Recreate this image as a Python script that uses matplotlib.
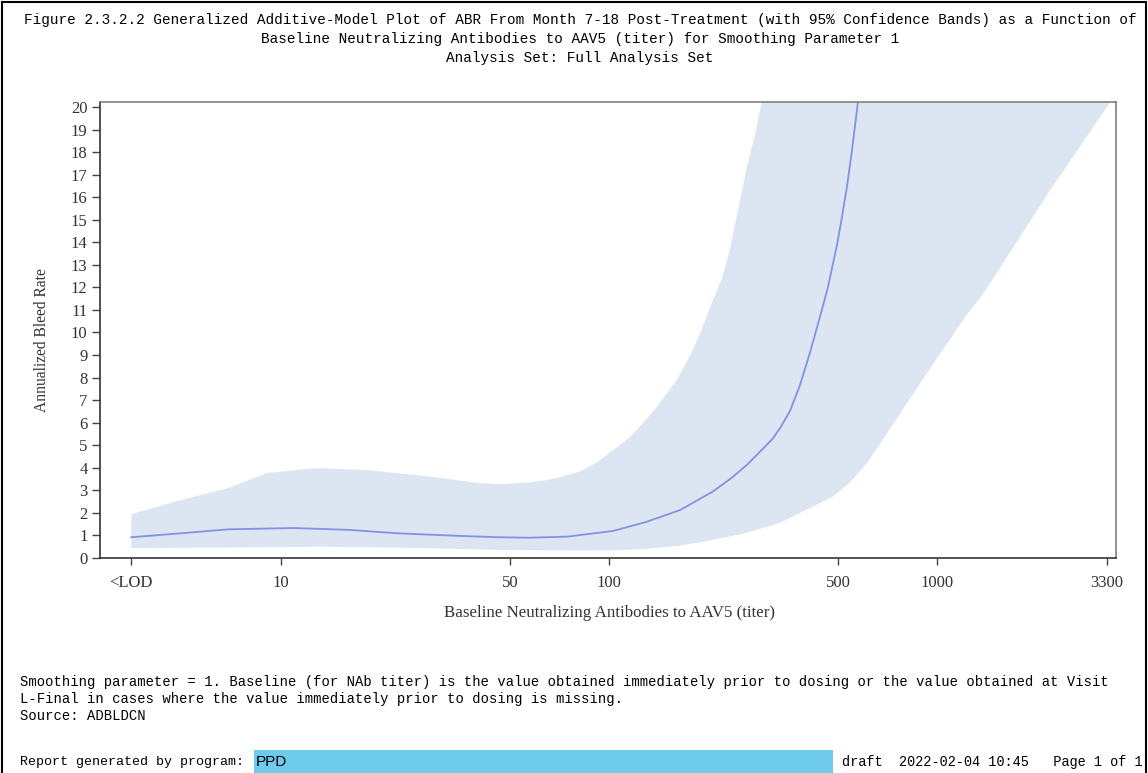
import matplotlib
matplotlib.use("Agg")
import matplotlib.pyplot as plt
from matplotlib.patches import Rectangle
from matplotlib.lines import Line2D
import numpy as np

# --- data (titer, ABR) ---
curve_x = [3.5, 5.0, 6.9, 10.9, 16, 23, 35, 46.5, 57, 75, 103, 130, 165, 207,
           234, 263, 295, 316, 332, 356, 382, 410, 440, 465, 496, 513, 532, 551,
           574, 610]
curve_y = [0.92, 1.1, 1.27, 1.33, 1.25, 1.09, 0.98, 0.92, 0.9, 0.95, 1.2, 1.6,
           2.13, 2.94, 3.5, 4.12, 4.85, 5.3, 5.75, 6.5, 7.65, 9.1, 10.7, 12.0,
           13.9, 15.1, 16.5, 18.1, 20.2, 23.0]

upper_x = [3.5, 4.9, 6.9, 9.1, 12.9, 18.3, 29, 40, 46.5, 57, 65, 71, 82, 92,
           103, 116, 129, 140, 161, 177, 189, 207, 221, 234, 247, 263, 279, 293,
           320, 3500]
upper_y = [1.95, 2.55, 3.1, 3.77, 3.99, 3.9, 3.6, 3.32, 3.28, 3.35, 3.46, 3.58,
           3.85, 4.25, 4.78, 5.37, 6.1, 6.7, 7.9, 9.0, 9.9, 11.4, 12.4, 13.7,
           15.4, 17.3, 18.8, 20.3, 23.0, 30.0]

lower_x = [3.5, 10, 13, 25, 46.5, 80, 103, 130, 165, 207, 263, 332, 382, 428,
           482, 543, 611, 684, 771, 972, 1235, 1381, 2211, 3369, 3513]
lower_y = [0.44, 0.48, 0.5, 0.45, 0.36, 0.33, 0.34, 0.4, 0.55, 0.8, 1.12, 1.55,
           2.0, 2.35, 2.73, 3.35, 4.2, 5.25, 6.4, 8.6, 10.8, 11.7, 16.3, 20.2,
           20.6]

xticks = [3.5, 10, 50, 100, 500, 1000, 3300]
xlabels = ["<LOD", "10", "50", "100", "500", "1000", "3300"]
yticks = list(range(0, 21))

title_lines = [
    "Figure 2.3.2.2 Generalized Additive-Model Plot of ABR From Month 7-18 Post-Treatment (with 95% Confidence Bands) as a Function of",
    "Baseline Neutralizing Antibodies to AAV5 (titer) for Smoothing Parameter 1",
    "Analysis Set: Full Analysis Set",
]
foot_lines = [
    "Smoothing parameter = 1. Baseline (for NAb titer) is the value obtained immediately prior to dosing or the value obtained at Visit",
    "L-Final in cases where the value immediately prior to dosing is missing.",
    "Source: ADBLDCN",
]

W, H = 1148, 773
def fx(px):
    return px / W
def fy(py):
    return 1 - py / H

fig = plt.figure(figsize=(W / 100, H / 100), dpi=100)
fig.patch.set_facecolor("white")

ax = fig.add_axes([fx(100), fy(558), (1116 - 100) / W, (558 - 102) / H])

# band + fit
band_px = np.concatenate([upper_x, lower_x[::-1]])
band_py = np.concatenate([upper_y, lower_y[::-1]])
ax.fill(band_px, band_py, color="#dce6f2", lw=0, zorder=1)
ax.plot(curve_x, curve_y, color="#8192e2", lw=1.3, zorder=2)

ax.set_xscale("log")
ax.set_xlim(2.81, 3513)
ax.set_ylim(0, 20.22)
ax.set_xticks(xticks)
ax.set_xticklabels(xlabels)
ax.xaxis.set_minor_locator(matplotlib.ticker.NullLocator())
ax.set_yticks(yticks)
ax.set_yticklabels([str(v) for v in yticks])

serif = "Liberation Serif"
for lab in ax.get_xticklabels() + ax.get_yticklabels():
    lab.set_fontfamily(serif)
    lab.set_fontsize(12)
    lab.set_color("#333333")
ax.tick_params(axis="y", direction="out", length=6, width=1, color="#444444", pad=3)
ax.tick_params(axis="x", direction="out", length=5, width=1, color="#444444", pad=7)

for s in ["left", "bottom"]:
    ax.spines[s].set_color("#333333")
    ax.spines[s].set_linewidth(1.2)
for s in ["top", "right"]:
    ax.spines[s].set_color("#808080")
    ax.spines[s].set_linewidth(1.2)

fig.text(fx(610), fy(613), "Baseline Neutralizing Antibodies to AAV5 (titer)",
         ha="center", va="center", fontsize=12.2, family=serif, color="#333333")
fig.text(fx(42), fy(340), "Annualized Bleed Rate", ha="center", va="center",
         rotation=90, fontsize=11.2, family=serif, color="#333333")

# titles
mono = "Liberation Mono"
for i, t in enumerate(title_lines):
    fig.text(fx(580), fy(20 + 19 * i), t, ha="center", va="center",
             fontsize=10.4, family=mono)

for i, t in enumerate(foot_lines):
    fig.text(fx(20), fy(682 + 17 * i), t, ha="left", va="center",
             fontsize=10, family=mono)

# report line
fig.text(fx(20), fy(762), "Report generated by program:", ha="left", va="center",
         fontsize=9.6, family=mono)
fig.patches.append(Rectangle((fx(254), fy(773)), (833 - 254) / W, 23 / H,
                             transform=fig.transFigure, facecolor="#6ecbeb",
                             edgecolor="none"))
fig.text(fx(256), fy(762), "PPD", ha="left", va="center", fontsize=11,
         family="Liberation Sans")
fig.text(fx(1143), fy(762), "draft  2022-02-04 10:45   Page 1 of 1", ha="right",
         va="center", fontsize=9.8, family=mono)

# page frame
for xs, ys in [([2, 2], [2, 773]), ([2, 1146], [2, 2]), ([1146, 1146], [2, 773])]:
    fig.lines.append(Line2D([fx(v) for v in xs], [fy(v) for v in ys],
                            transform=fig.transFigure, color="black", lw=1.5))

fig.savefig("out.png", dpi=100)
